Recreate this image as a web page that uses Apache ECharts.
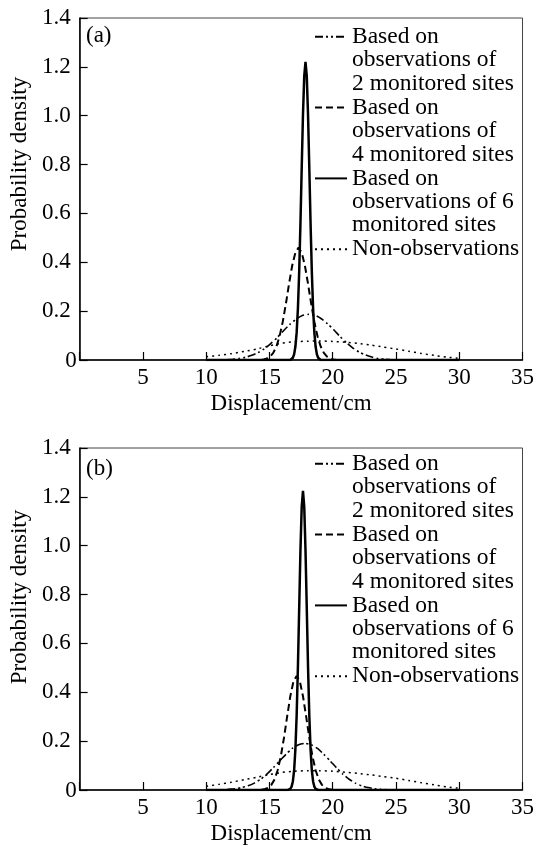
<!DOCTYPE html>
<html><head><meta charset="utf-8">
<script src="https://cdn.jsdelivr.net/npm/echarts@6/dist/echarts.min.js"></script>
<style>html,body{margin:0;padding:0;background:#fff}#c{width:537px;height:847px}</style>
</head><body><div id="c"></div>
<script>
// ---- Panel (a) ----
const a2X = [10, 11.6, 12.1, 12.6, 13.1, 13.6, 14.1, 14.6, 15.1, 15.6, 16.1, 16.6, 17.1, 17.6, 18.1, 18.6, 19.1, 19.6, 20.1, 20.6, 21.1, 21.6, 22.1, 22.6, 23.1, 23.6, 24.1, 24.6, 30];
const a2Y = [0, 0.001, 0.003, 0.006, 0.011, 0.019, 0.030, 0.046, 0.067, 0.091, 0.119, 0.145, 0.167, 0.182, 0.187, 0.183, 0.169, 0.148, 0.123, 0.095, 0.070, 0.049, 0.032, 0.021, 0.012, 0.006, 0.003, 0.001, 0];
const a4X = [10, 14.3, 14.55, 14.8, 15.05, 15.3, 15.55, 15.8, 16.05, 16.3, 16.55, 16.8, 17.05, 17.3, 17.55, 17.8, 18.05, 18.3, 18.55, 18.8, 19.05, 19.3, 19.55, 19.8, 20.05, 20.3, 30];
const a4Y = [0, 0, 0.002, 0.006, 0.014, 0.029, 0.055, 0.097, 0.156, 0.230, 0.312, 0.387, 0.440, 0.460, 0.440, 0.387, 0.312, 0.230, 0.156, 0.097, 0.055, 0.029, 0.014, 0.006, 0.002, 0, 0];
const a6X = [10, 16.65, 16.75, 16.85, 16.95, 17.05, 17.15, 17.25, 17.35, 17.45, 17.55, 17.65, 17.75, 17.85, 17.95, 18.05, 18.15, 18.25, 18.35, 18.45, 18.55, 18.65, 18.75, 18.85, 18.95, 19.05, 30];
const a6Y = [0, 0, 0.003, 0.009, 0.023, 0.054, 0.112, 0.211, 0.360, 0.559, 0.787, 1.004, 1.162, 1.220, 1.162, 1.004, 0.787, 0.559, 0.360, 0.211, 0.112, 0.054, 0.023, 0.009, 0.003, 0, 0];
const a0X = [10, 11, 12, 13, 14, 15, 16, 17, 18, 19, 20, 21, 22, 23, 24, 25, 26, 27, 28, 29, 30];
const a0Y = [0.013, 0.019, 0.026, 0.035, 0.045, 0.058, 0.069, 0.075, 0.077, 0.078, 0.076, 0.073, 0.068, 0.061, 0.053, 0.045, 0.036, 0.027, 0.019, 0.012, 0.007];

// ---- Panel (b) ----
const b2X = [10, 11.3, 11.8, 12.3, 12.8, 13.3, 13.8, 14.3, 14.8, 15.3, 15.8, 16.3, 16.8, 17.3, 17.8, 18.3, 18.8, 19.3, 19.8, 20.3, 20.8, 21.3, 21.8, 22.3, 22.8, 23.3, 23.8, 24.3, 30];
const b2Y = [0, 0.001, 0.003, 0.005, 0.010, 0.017, 0.028, 0.044, 0.065, 0.091, 0.119, 0.146, 0.170, 0.185, 0.191, 0.185, 0.170, 0.146, 0.119, 0.091, 0.065, 0.044, 0.028, 0.017, 0.010, 0.005, 0.003, 0.001, 0];
const b4X = [10, 14.15, 14.4, 14.65, 14.9, 15.15, 15.4, 15.65, 15.9, 16.15, 16.4, 16.65, 16.9, 17.15, 17.4, 17.65, 17.9, 18.15, 18.4, 18.65, 18.9, 19.15, 19.4, 19.65, 19.9, 20.15, 30];
const b4Y = [0, 0, 0.001, 0.004, 0.009, 0.021, 0.043, 0.081, 0.138, 0.214, 0.301, 0.384, 0.445, 0.467, 0.445, 0.384, 0.301, 0.214, 0.138, 0.081, 0.043, 0.021, 0.009, 0.004, 0.001, 0, 0];
const b6X = [10, 16.45, 16.55, 16.65, 16.75, 16.85, 16.95, 17.05, 17.15, 17.25, 17.35, 17.45, 17.55, 17.65, 17.75, 17.85, 17.95, 18.05, 18.15, 18.25, 18.35, 18.45, 18.55, 18.65, 18.75, 18.85, 30];
const b6Y = [0, 0, 0.001, 0.005, 0.014, 0.035, 0.080, 0.166, 0.305, 0.504, 0.743, 0.981, 1.159, 1.225, 1.159, 0.981, 0.743, 0.504, 0.305, 0.166, 0.080, 0.035, 0.014, 0.005, 0.001, 0, 0];
const b0X = [10, 11, 12, 13, 14, 15, 16, 17, 18, 19, 20, 21, 22, 23, 24, 25, 26, 27, 28, 29, 30];
const b0Y = [0.015, 0.023, 0.032, 0.042, 0.052, 0.063, 0.072, 0.077, 0.079, 0.079, 0.077, 0.073, 0.068, 0.062, 0.055, 0.048, 0.039, 0.030, 0.021, 0.013, 0.007];

const seriesNames = ['2 sites', '4 sites', '6 sites', 'Non-observations'];
const legendLabels = {
  '2 sites': '\n\nBased on\nobservations of\n2 monitored sites',
  '4 sites': '\n\nBased on\nobservations of\n4 monitored sites',
  '6 sites': '\n\nBased on\nobservations of 6\nmonitored sites',
  'Non-observations': '\n\nNon-observations\n\n'
};
const panelLabels = ['(a)', '(b)'];
const xName = 'Displacement/cm';
const yName = 'Probability density';

const FONT = 'Liberation Serif';
const LH = 23.4;
const styles = {
  '2 sites': { color: '#000', width: 1.6, type: [8, 3, 2, 3, 2, 3] },
  '4 sites': { color: '#000', width: 2, type: [7, 4] },
  '6 sites': { color: '#000', width: 2.5, type: 'solid' },
  'Non-observations': { color: '#000', width: 1.5, type: [2, 4] }
};

function pairs(xs, ys) { return xs.map((x, i) => [x, ys[i]]); }

const panels = [
  { data: [pairs(a2X, a2Y), pairs(a4X, a4Y), pairs(a6X, a6Y), pairs(a0X, a0Y)] },
  { data: [pairs(b2X, b2Y), pairs(b4X, b4Y), pairs(b6X, b6Y), pairs(b0X, b0Y)] }
];

const gridTops = [18, 448];
const series = [];
panels.forEach((p, pi) => {
  p.data.forEach((d, si) => {
    const nm = seriesNames[si];
    series.push({
      type: 'line', name: nm, xAxisIndex: pi, yAxisIndex: pi,
      data: d, symbol: 'none', showSymbol: false,
      smooth: (nm === '2 sites' || nm === 'Non-observations') ? 0.2 : false,
      lineStyle: styles[nm], color: '#000', z: 3 + si,
      emphasis: { disabled: true }, silent: true
    });
  });
});

const axisLine = { show: true, lineStyle: { color: '#000', width: 1.5 } };
const tick = { show: true, inside: true, length: 8, lineStyle: { color: '#000', width: 1.2 } };
const lab = { fontFamily: FONT, fontSize: 23, color: '#000' };

const option = {
  animation: false,
  backgroundColor: '#fff',
  title: [
    { text: panelLabels[0], left: 86, top: 24, padding: 0, textStyle: { fontFamily: FONT, fontSize: 23, fontWeight: 'normal', color: '#000', lineHeight: 23 } },
    { text: panelLabels[1], left: 86, top: 457, padding: 0, textStyle: { fontFamily: FONT, fontSize: 23, fontWeight: 'normal', color: '#000', lineHeight: 23 } }
  ],
  legend: [-22, 405].map(t => ({
    orient: 'vertical', left: 314, top: t, padding: 0,
    itemWidth: 32, itemHeight: 14, itemGap: -2 * LH,
    data: seriesNames, selectedMode: false,
    itemStyle: { color: 'rgba(0,0,0,0)', borderWidth: 0, opacity: 0 },
    formatter: n => legendLabels[n],
    textStyle: { fontFamily: FONT, fontSize: 23.5, lineHeight: LH, color: '#000' }
  })),
  grid: gridTops.map(t => ({ left: 78, right: 14, top: t, height: 342, show: true, borderColor: '#444', borderWidth: 1, backgroundColor: 'transparent' })),
  xAxis: [0, 1].map(i => ({
    type: 'value', gridIndex: i, min: 0, max: 35, interval: 5,
    axisLine, axisTick: tick, splitLine: { show: false },
    axisLabel: Object.assign({ margin: 6, formatter: v => (v === 0 ? '' : String(v)) }, lab),
    name: xName, nameLocation: 'middle', nameGap: 32,
    nameTextStyle: Object.assign({ padding: [0, 20, 0, 0] }, lab)
  })),
  yAxis: [0, 1].map(i => ({
    type: 'value', gridIndex: i, min: 0, max: 1.4, interval: 0.2,
    axisLine, axisTick: tick, splitLine: { show: false },
    axisLabel: Object.assign({
      margin: 9,
      formatter: v => (v === 0 ? '{z|0}' : v.toFixed(1)),
      rich: { z: { fontFamily: FONT, fontSize: 23, color: '#000', padding: [2, -6, 0, 0] } }
    }, lab),
    name: yName, nameLocation: 'middle', nameGap: 48, nameRotate: 90,
    nameTextStyle: Object.assign({ padding: [0, 0, 0, i === 0 ? 50 : 44] }, lab)
  })),
  series
};

const chart = echarts.init(document.getElementById('c'), null, { renderer: 'canvas' });
chart.setOption(option);
</script>
</body></html>
